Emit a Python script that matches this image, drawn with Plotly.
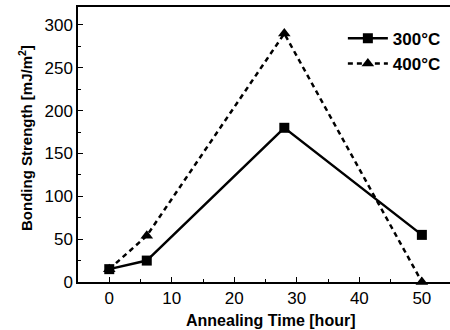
import plotly.graph_objects as go

time_h = [0, 6, 28, 50]
strength_300 = [15, 25, 180, 55]
strength_400 = [15, 54, 290, 0]
series_names = ["300°C", "400°C"]
x_title = "Annealing Time [hour]"
y_title = "Bonding Strength [mJ/m<sup>2</sup>]"

FONT = "Liberation Sans, Arial, sans-serif"

fig = go.Figure()
fig.add_trace(go.Scatter(
    x=time_h, y=strength_300, name=series_names[0], mode="lines+markers",
    line=dict(color="black", width=2.5),
    marker=dict(symbol="square", size=10, color="black"),
))
fig.add_trace(go.Scatter(
    x=time_h, y=strength_400, name=series_names[1], mode="lines+markers",
    line=dict(color="black", width=2.5, dash="5px,4px"),
    marker=dict(symbol="triangle-up", size=11, color="black"),
    cliponaxis=False,
))

fig.update_layout(
    width=450, height=330,
    margin=dict(l=78, r=0, t=7, b=48, autoexpand=False),
    plot_bgcolor="white", paper_bgcolor="white",
    font=dict(family=FONT, color="black", size=17),
    showlegend=True,
    legend=dict(
        x=0.712, y=0.95, xanchor="left", yanchor="top",
        bgcolor="rgba(0,0,0,0)",
        font=dict(family=FONT, size=17, color="black", weight="bold"),
        itemwidth=40, tracegroupgap=0,
    ),
    xaxis=dict(
        range=[-5, 54.5], tickvals=[0, 10, 20, 30, 40, 50],
        ticks="inside", ticklen=5, tickwidth=1, tickcolor="black",
        showline=True, linecolor="black", linewidth=1.5, mirror=True,
        showgrid=False, zeroline=False, automargin=False,
        minor=dict(dtick=5, tick0=0, ticks="inside", ticklen=3, tickcolor="black"),
        tickfont=dict(size=17),
    ),
    yaxis=dict(
        range=[0, 321], tickvals=[0, 50, 100, 150, 200, 250, 300],
        ticks="inside", ticklen=5, tickwidth=1, tickcolor="black",
        showline=True, linecolor="black", linewidth=1.5, mirror=False,
        showgrid=False, zeroline=False, automargin=False,
        minor=dict(dtick=25, tick0=0, ticks="inside", ticklen=3, tickcolor="black"),
        tickfont=dict(size=17),
    ),
    annotations=[
        dict(text="<b>" + x_title + "</b>", xref="paper", yref="paper",
             x=(270 - 78) / 372, y=-(320 - 282) / 275, xanchor="center", yanchor="middle",
             showarrow=False, font=dict(family=FONT, size=16)),
        dict(text="<b>" + y_title + "</b>", xref="paper", yref="paper",
             x=-(78 - 25) / 372, y=(282 - 138) / 275, xanchor="center", yanchor="middle",
             textangle=-90, showarrow=False, font=dict(family=FONT, size=15)),
    ],
)

fig.write_html("out.html", config={"displayModeBar": False},
               post_script="document.body.style.margin='0';")
